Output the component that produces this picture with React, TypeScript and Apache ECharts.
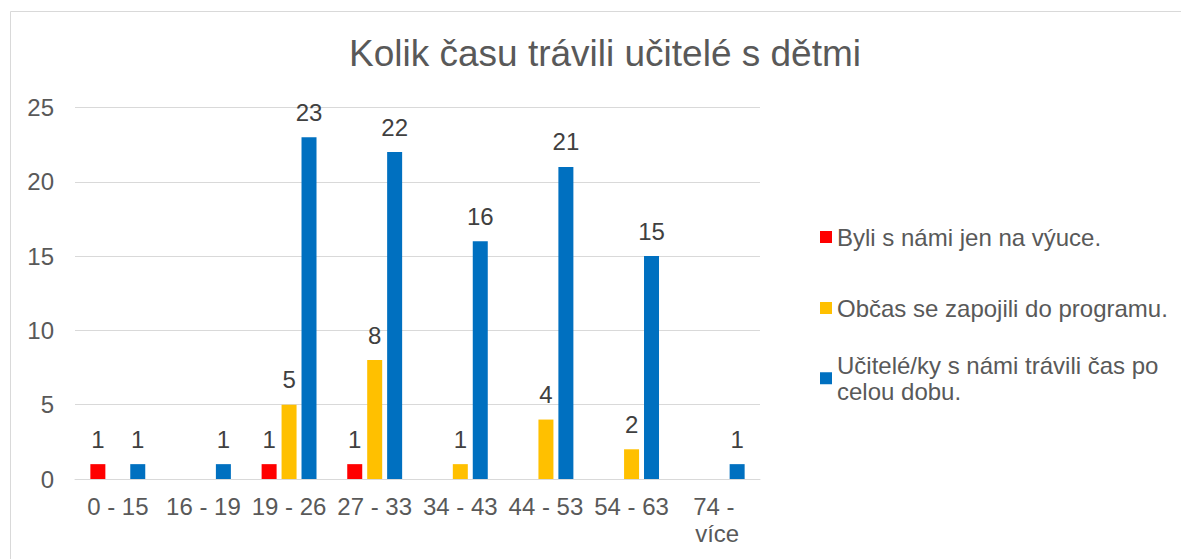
import React, { useEffect, useRef } from "react";
import * as echarts from "echarts";

const titleText = "Kolik času trávili učitelé s dětmi";
const categories = ["0 - 15", "16 - 19", "19 - 26", "27 - 33", "34 - 43", "44 - 53", "54 - 63", "74 - více"];
const seriesNames = [
  "Byli s námi jen na výuce.",
  "Občas se zapojili do programu.",
  "Učitelé/ky s námi trávili čas po celou dobu.",
];
const redValues = [1, null, 1, 1, null, null, null, null];
const yellowValues = [null, null, 5, 8, 1, 4, 2, null];
const blueValues = [1, 1, 23, 22, 16, 21, 15, 1];
const colors = ["#FF0000", "#FFC000", "#0070C0"];

const FONT = "'Liberation Sans', Arial, sans-serif";

export default function App() {
  const ref = useRef<HTMLDivElement>(null);
  useEffect(() => {
    if (!ref.current) return;
    const chart = echarts.init(ref.current, undefined, { renderer: "svg" });
    const label = {
      show: true,
      position: "top",
      distance: 13,
      fontSize: 24,
      color: "#404040",
      fontFamily: FONT,
    };
    const legendBase = (idx: number, top: number, extra: any = {}) => ({
      orient: "vertical",
      left: 820,
      top,
      padding: 0,
      itemWidth: 12,
      itemHeight: 12,
      icon: "rect",
      selectedMode: false,
      textStyle: { fontSize: 24, color: "#595959", fontFamily: FONT },
      data: [{ name: seriesNames[idx], ...extra }],
    });
    chart.setOption({
      animation: false,
      backgroundColor: "#ffffff",
      title: {
        text: titleText,
        left: 600,
        textAlign: "center",
        top: 30,
        textStyle: { fontSize: 37, fontWeight: "normal", color: "#595959", fontFamily: FONT },
      },
      graphic: [
        {
          type: "rect",
          shape: { x: 10.5, y: 11.5, width: 1400, height: 800 },
          style: { fill: "none", stroke: "#D9D9D9", lineWidth: 1 },
          silent: true,
          z: -10,
        },
      ],
      legend: [
        legendBase(0, 225),
        legendBase(1, 296),
        {
          ...legendBase(2, 338.5),
          formatter: () => "Učitelé/ky s námi trávili čas po\ncelou dobu.",
          data: [
            {
              name: seriesNames[2],
              textStyle: { padding: [26.5, 0, 0, 0], lineHeight: 26.5, fontSize: 24, color: "#595959", fontFamily: FONT },
            },
          ],
        },
      ],
      grid: { left: 75, right: 421, top: 107.5, bottom: 80, containLabel: false },
      xAxis: {
        type: "category",
        data: categories,
        axisLine: { show: true, lineStyle: { color: "#D9D9D9", width: 1 } },
        axisTick: { show: false },
        axisLabel: {
          fontSize: 24,
          color: "#595959",
          fontFamily: FONT,
          margin: 14,
          lineHeight: 27,
          interval: 0,
          width: 84,
          overflow: "break",
        },
      },
      yAxis: {
        type: "value",
        min: 0,
        max: 25,
        interval: 5,
        axisLine: { show: false },
        axisTick: { show: false },
        splitLine: { lineStyle: { color: "#D9D9D9", width: 1 } },
        axisLabel: { fontSize: 24, color: "#595959", fontFamily: FONT, margin: 21 },
      },
      series: [
        { name: seriesNames[0], type: "bar", data: redValues, itemStyle: { color: colors[0] }, barWidth: 15, barGap: "33%", label },
        { name: seriesNames[1], type: "bar", data: yellowValues, itemStyle: { color: colors[1] }, barWidth: 15, barGap: "33%", label },
        { name: seriesNames[2], type: "bar", data: blueValues, itemStyle: { color: colors[2] }, barWidth: 15, barGap: "33%", label },
      ],
    });
    return () => chart.dispose();
  }, []);
  return (
    <div
      ref={ref}
      style={{ position: "fixed", left: 0, top: 0, width: 1181, height: 559, background: "#fff" }}
    />
  );
}
